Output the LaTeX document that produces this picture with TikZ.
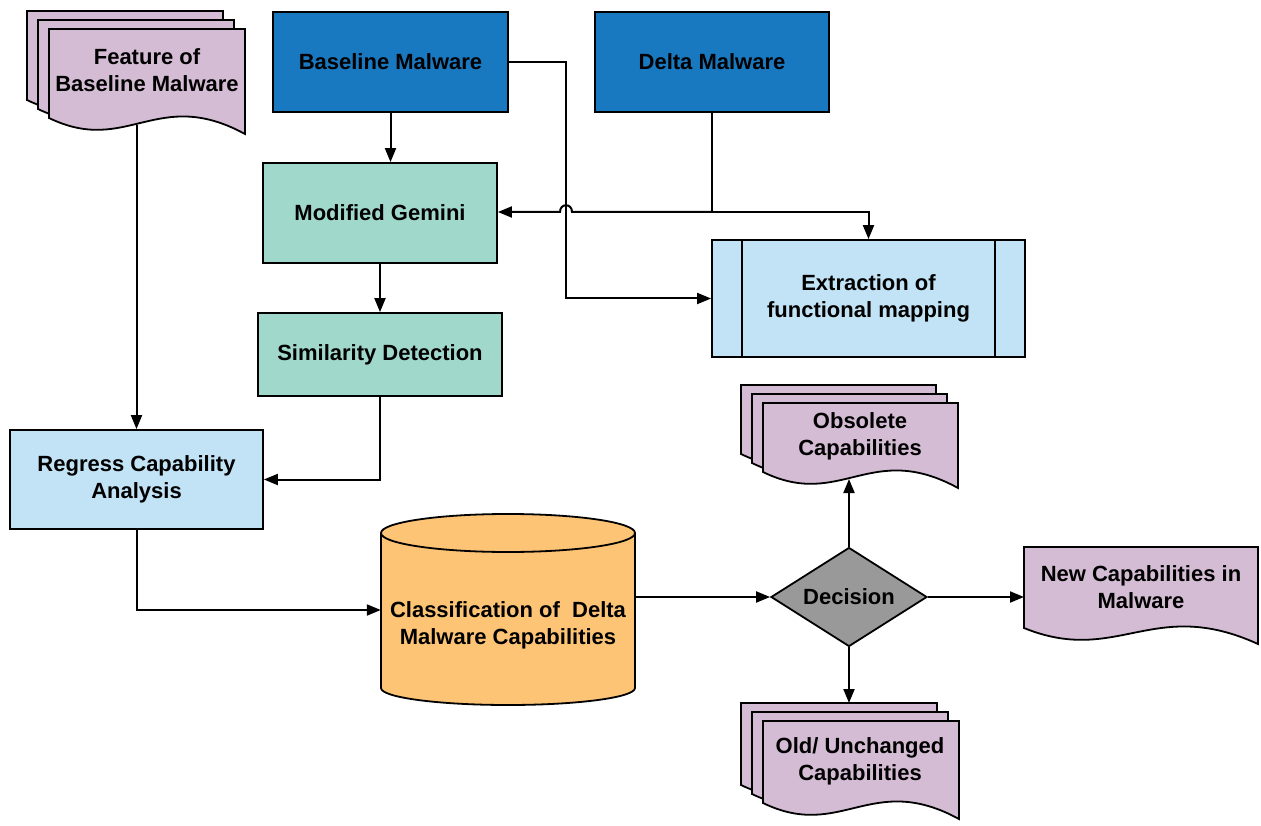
\documentclass[tikz,border=0pt]{standalone}
\usepackage{fontspec}
\setmainfont{Liberation Sans}
\usetikzlibrary{positioning,shapes.geometric,arrows.meta,calc}

\definecolor{mwblue}{RGB}{24,120,192}
\definecolor{mwteal}{RGB}{160,216,204}
\definecolor{mwsky}{RGB}{194,226,245}
\definecolor{mwlilac}{RGB}{212,188,212}
\definecolor{mworange}{RGB}{253,196,118}
\definecolor{mwgray}{RGB}{153,153,153}

\tikzset{
  docfill/.style={fill=mwlilac, draw=black, line width=1.8pt},
}

% one page with a wavy bottom: x, y, width, height
\newcommand{\wavedoc}[4]{%
  \draw[docfill] (#1,#2) -- ({#1+#3},#2) -- ({#1+#3},{#2+#4+16})
    .. controls ({#1+0.55*#3},{#2+#4-32}) and ({#1+0.4*#3},{#2+#4+38}) .. (#1,{#2+#4}) -- cycle;}
% three stacked pages, front page given
\newcommand{\multidoc}[4]{%
  \wavedoc{#1-22}{#2-18}{#3}{#4}
  \wavedoc{#1-11}{#2-9}{#3}{#4}
  \wavedoc{#1}{#2}{#3}{#4}}

\begin{document}
\begin{tikzpicture}[x=1pt, y=-1pt,
    every node/.style={font=\fontsize{22}{27}\selectfont\bfseries, align=center, inner sep=0pt},
    darkbox/.style={draw=black, line width=1.8pt, fill=mwblue},
    tealbox/.style={draw=black, line width=1.8pt, fill=mwteal},
    skybox/.style={draw=black, line width=1.8pt, fill=mwsky},
    arr/.style={-{Triangle[length=14pt, width=11pt]}, line width=2pt},
    link/.style={line width=2pt}]
  \useasboundingbox (0,0) rectangle (1261,826);

  % Documents
  \multidoc{49}{29}{196}{89}
  \node (feature) at (147,70) {Feature of\\Baseline Malware};
  \coordinate (featbot) at (136.5,125);

  \multidoc{763}{403}{195}{69}
  \node (obsolete) at (860,436) {Obsolete\\Capabilities};
  \coordinate (obsbot) at (849,479);

  \multidoc{763}{721}{196}{82}
  \node (oldcap) at (860,761) {Old/ Unchanged\\Capabilities};
  \coordinate (oldtop) at (849,703);

  \wavedoc{1024}{547}{234}{81}
  \node (newcap) at (1141,587) {New Capabilities in\\Malware};
  \coordinate (newleft) at (1024,597);

  % Input malware
  \node[darkbox, minimum width=235pt, minimum height=100pt] (baseline) at (390.5,62) {Baseline Malware};
  \node[darkbox, minimum width=234pt, minimum height=100pt] (delta) at (712,62) {Delta Malware};

  % Processing steps
  \node[tealbox, minimum width=234pt, minimum height=100pt] (gemini) at (380,213) {Modified Gemini};
  \node[tealbox, minimum width=244pt, minimum height=83pt] (simil) at (380,354.5) {Similarity Detection};
  \node[skybox, minimum width=313pt, minimum height=117pt] (extract) at (868.5,298.5) {Extraction of\\functional mapping};
  \draw[line width=1.8pt] ([xshift=31pt]extract.north west) -- ([xshift=31pt]extract.south west)
    ([xshift=-31pt]extract.north east) -- ([xshift=-31pt]extract.south east);
  \node[skybox, minimum width=253pt, minimum height=99pt] (regress) at (136.5,479.5) {Regress Capability\\Analysis};

  % Cylinder
  \node[minimum width=254pt, minimum height=155pt] (classif) at (508,610) {};
  \filldraw[fill=mworange, line width=1.8pt] (508,688) ellipse [x radius=127, y radius=17];
  \fill[mworange] (classif.north west |- 0,533) rectangle (classif.east |- 0,688);
  \draw[line width=1.8pt] (381,533) -- (381,688) (635,533) -- (635,688);
  \filldraw[fill=mworange, line width=1.8pt] (508,533) ellipse [x radius=127, y radius=19];
  \node (classtxt) at (508,625) {Classification of \ Delta\\Malware Capabilities};

  % Decision
  \node[diamond, aspect=1.58, draw=black, line width=1.8pt, fill=mwgray, minimum width=156pt, minimum height=99pt] (decision) at (849,597) {Decision};

  % Connectors
  \draw[arr] (baseline.south) -- (gemini.north -| baseline.south);
  \coordinate (bturn) at (566,298.5);
  \draw[arr] (baseline.east) -| (bturn) -- (extract.west);
  \coordinate (djoin) at (712,212);
  \draw[link] (delta.south) -- (djoin);
  \draw[arr] (djoin) -- ($(bturn |- djoin)+(6,0)$) .. controls +(0,-9) and +(0,-9) .. ++(-12,0) -- (gemini.east |- djoin);
  \draw[arr] (djoin) -| (extract.north);
  \draw[arr] (gemini.south) -- (simil.north);
  \draw[arr] (simil.south) |- (regress.east);
  \draw[arr] (featbot) -- (regress.north);
  \draw[arr] (regress.south) |- (classif.west);
  \draw[arr] (classif.east |- decision.west) -- (decision.west);
  \draw[arr] (decision.north) -- (obsbot);
  \draw[arr] (decision.south) -- (oldtop);
  \draw[arr] (decision.east) -- (newleft);
\end{tikzpicture}
\end{document}
